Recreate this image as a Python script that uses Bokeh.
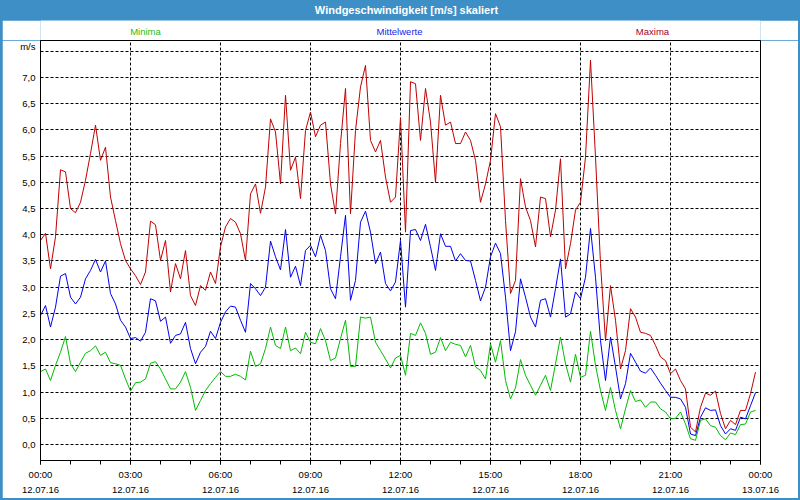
import pandas as pd
from bokeh.plotting import figure
from bokeh.models import Range1d, FixedTicker, CustomJSTickFormatter, DatetimeAxis
from bokeh.layouts import column
from bokeh.core.properties import value
from bokeh.embed import file_html
from bokeh.resources import INLINE

# ---- data (10-minute values, 12.07.16 00:00 .. 23:50) ----
times = pd.date_range("2016-07-12 00:00", periods=144, freq="10min")

maxima = [3.89, 4.03, 3.35, 3.96, 5.24, 5.20, 4.50, 4.42, 4.62, 5.04, 5.55, 6.09, 5.42, 5.67, 4.72, 4.27,
          3.83, 3.51, 3.35, 3.22, 3.05, 3.29, 4.26, 4.19, 3.51, 3.89, 2.91, 3.45, 3.16, 3.70, 2.84, 2.65,
          3.03, 2.94, 3.29, 3.07, 3.77, 4.15, 4.31, 4.24, 4.02, 3.51, 4.78, 4.97, 4.41, 4.91, 6.21, 5.96,
          4.97, 6.66, 5.23, 5.48, 4.69, 5.99, 6.34, 5.87, 6.09, 6.15, 4.97, 4.40, 5.74, 6.79, 4.40, 5.99,
          6.82, 7.23, 5.80, 5.58, 5.80, 5.10, 4.62, 4.72, 6.23, 4.05, 6.92, 6.88, 5.80, 6.79, 6.15, 5.00,
          6.66, 6.09, 6.15, 5.74, 5.74, 5.96, 5.80, 5.42, 4.62, 4.97, 5.42, 6.31, 6.06, 4.27, 2.88, 3.13,
          5.07, 4.53, 4.27, 3.77, 4.72, 4.69, 3.96, 4.47, 5.45, 3.35, 3.83, 4.47, 4.62, 5.48, 7.33, 5.48,
          3.45, 1.98, 3.03, 2.37, 1.44, 1.79, 2.59, 2.43, 2.14, 2.12, 2.08, 1.89, 1.67, 1.60, 1.35, 1.44,
          1.22, 1.06, 0.33, 0.24, 0.71, 0.98, 0.94, 1.02, 0.59, 0.30, 0.46, 0.38, 0.65, 0.65, 0.97, 1.38]

mittel = [2.46, 2.65, 2.24, 2.62, 3.21, 3.26, 2.81, 2.68, 2.81, 3.16, 3.32, 3.53, 3.29, 3.50, 2.88, 2.68,
          2.37, 2.24, 2.02, 2.04, 1.97, 2.14, 2.78, 2.74, 2.35, 2.43, 1.93, 2.08, 2.11, 2.33, 1.83, 1.54,
          1.76, 1.87, 2.16, 2.02, 2.33, 2.53, 2.64, 2.62, 2.37, 2.14, 3.07, 2.97, 2.84, 3.00, 3.88, 3.58,
          3.33, 4.10, 3.19, 3.40, 3.03, 3.70, 3.80, 3.58, 3.99, 3.70, 2.97, 2.78, 3.58, 4.37, 2.75, 3.13,
          4.24, 4.45, 4.05, 3.45, 3.67, 3.07, 2.93, 3.10, 3.89, 2.62, 4.08, 4.10, 3.89, 4.20, 3.77, 3.32,
          4.02, 3.78, 3.78, 3.50, 3.64, 3.51, 3.50, 3.13, 2.74, 3.00, 3.58, 3.84, 3.64, 2.81, 1.79, 2.15,
          3.16, 2.81, 2.43, 2.24, 2.75, 2.78, 2.43, 2.97, 3.54, 2.43, 2.49, 2.91, 2.78, 3.19, 4.12, 3.19,
          1.98, 1.22, 2.05, 1.48, 0.87, 1.16, 1.74, 1.57, 1.40, 1.36, 1.46, 1.32, 1.17, 1.03, 0.90, 0.90,
          0.87, 0.71, 0.20, 0.17, 0.52, 0.70, 0.65, 0.66, 0.36, 0.20, 0.30, 0.27, 0.52, 0.49, 0.74, 0.99]

minima = [1.39, 1.44, 1.22, 1.51, 1.76, 2.06, 1.54, 1.39, 1.57, 1.74, 1.79, 1.88, 1.70, 1.76, 1.56, 1.54,
          1.51, 1.25, 1.02, 1.18, 1.19, 1.25, 1.55, 1.58, 1.44, 1.25, 1.06, 1.06, 1.19, 1.39, 1.09, 0.65,
          0.84, 1.03, 1.16, 1.28, 1.39, 1.30, 1.30, 1.34, 1.30, 1.23, 1.78, 1.49, 1.54, 1.83, 2.24, 1.89,
          1.83, 2.24, 1.79, 1.84, 1.73, 2.14, 1.95, 1.92, 2.21, 1.98, 1.60, 1.65, 2.02, 2.37, 1.49, 1.49,
          2.43, 2.41, 2.43, 1.95, 1.79, 1.63, 1.46, 1.65, 1.70, 1.32, 2.12, 2.08, 2.32, 2.12, 1.72, 1.76,
          2.04, 1.79, 1.95, 1.91, 1.89, 1.67, 1.89, 1.48, 1.41, 1.25, 1.92, 1.57, 1.98, 1.22, 0.87, 1.08,
          1.62, 1.32, 1.13, 0.94, 1.13, 1.32, 1.03, 1.54, 2.05, 1.54, 1.19, 1.72, 1.28, 1.32, 2.16, 1.51,
          1.03, 0.65, 1.09, 0.65, 0.30, 0.68, 1.03, 0.82, 0.85, 0.71, 0.81, 0.81, 0.68, 0.62, 0.49, 0.50,
          0.62, 0.39, 0.11, 0.08, 0.46, 0.49, 0.36, 0.33, 0.17, 0.09, 0.22, 0.19, 0.38, 0.39, 0.62, 0.65]

series_names = ["Minima", "Mittelwerte", "Maxima"]
y_ticks = [0.0, 0.5, 1.0, 1.5, 2.0, 2.5, 3.0, 3.5, 4.0, 4.5, 5.0, 5.5, 6.0, 6.5, 7.0]
y_grid = y_ticks + [7.5]
unit_tick = 7.6
title_text = "Windgeschwindigkeit [m/s] skaliert"
unit_text = "m/s"

# ---- styles ----
FONT = "Liberation Sans"
C_MIN, C_MID, C_MAX = "#00bb00", "#0000ee", "#c00000"
C_LEG = ["#22bb22", "#2222ee", "#a00030"]
C_BAR = "#3d8fc6"
PAD = 2                     # blue window edge (left, right, bottom)
W = 800 - 2 * PAD
BL, BR = 40 - PAD, 40 - PAD   # figure px left/right of plot frame

def header_fig(h, fill):
    f = figure(width=W, height=h, x_range=Range1d(40, 760), y_range=Range1d(0, h),
               toolbar_location=None, output_backend="svg",
               min_border_left=BL, min_border_right=BR, min_border_top=0, min_border_bottom=0,
               x_axis_location=None, y_axis_location=None)
    f.outline_line_color = None
    f.grid.visible = False
    f.background_fill_color = fill
    f.border_fill_color = fill
    return f

# title bar
bar = header_fig(20, C_BAR)
bar.text(x=[406], y=[11], text=[title_text], text_color="white", text_font=value(FONT),
         text_font_size="11px", text_font_style="bold", text_align="center", text_baseline="middle")

# series names
leg = header_fig(20, "white")
leg.text(x=[145, 399, 652], y=[9, 9, 9], text=series_names, text_color=C_LEG,
         text_font=value(FONT), text_font_size="9.5px", text_align="center", text_baseline="middle")

# ---- main chart ----
t0 = pd.Timestamp("2016-07-12 00:00")
t1 = pd.Timestamp("2016-07-13 00:00")
p = figure(width=W, height=460 - PAD, x_axis_type="datetime",
           x_range=Range1d(t0, t1), y_range=Range1d(-0.305, 7.705),
           toolbar_location=None, output_backend="svg",
           min_border_left=BL, min_border_right=BR, min_border_top=0, min_border_bottom=40 - PAD)
p.background_fill_color = "white"
p.border_fill_color = "white"
p.outline_line_color = "black"
p.outline_line_width = 1
p.outline_line_alpha = 1

ms_h = 3600 * 1000
start_ms = t0.value // 10**6
major = [start_ms + h * ms_h for h in range(0, 25, 3)]
minor = [start_ms + h * ms_h for h in range(0, 25)]

time_fmt = CustomJSTickFormatter(code="""
const d = new Date(tick);
const pad = (n) => String(n).padStart(2, '0');
return pad(d.getUTCHours()) + ':' + pad(d.getUTCMinutes());
""")
date_fmt = CustomJSTickFormatter(code="""
const d = new Date(tick);
const pad = (n) => String(n).padStart(2, '0');
return pad(d.getUTCDate()) + '.' + pad(d.getUTCMonth() + 1) + '.' + String(d.getUTCFullYear()).slice(2);
""")

xa = p.xaxis[0]
xa.ticker = FixedTicker(ticks=major, minor_ticks=minor)
xa.formatter = time_fmt
xa.axis_line_color = "black"
xa.major_tick_line_color = "black"
xa.minor_tick_line_color = "black"
xa.major_tick_in = 0
xa.major_tick_out = 4
xa.minor_tick_in = 0
xa.minor_tick_out = 4
xa.major_label_standoff = 4
xa.major_label_text_font = FONT
xa.major_label_text_font_size = "9.5px"
xa.major_label_text_color = "black"

xb = DatetimeAxis(ticker=FixedTicker(ticks=major), formatter=date_fmt)
xb.axis_line_color = None
xb.major_tick_line_color = None
xb.minor_tick_line_color = None
xb.major_tick_out = 0
xb.major_label_standoff = 4
xb.major_label_text_font = FONT
xb.major_label_text_font_size = "9.5px"
xb.major_label_text_color = "black"
p.add_layout(xb, "below")

ya = p.yaxis[0]
ya.ticker = FixedTicker(ticks=y_ticks + [unit_tick])
ya.formatter = CustomJSTickFormatter(
    args=dict(ut=unit_tick, lbl=unit_text),
    code="if (Math.abs(tick - ut) < 1e-6) { return lbl; } return tick.toFixed(1).replace('.', ',');")
ya.axis_line_color = "black"
ya.major_tick_line_color = None
ya.minor_tick_line_color = None
ya.major_tick_out = 0
ya.major_tick_in = 0
ya.major_label_standoff = 5
ya.major_label_text_font = FONT
ya.major_label_text_font_size = "9.5px"
ya.major_label_text_color = "black"

p.xgrid.ticker = FixedTicker(ticks=major)
p.ygrid.ticker = FixedTicker(ticks=y_grid)
for g in (p.xgrid[0], p.ygrid[0]):
    g.grid_line_color = "black"
    g.grid_line_dash = "3 2"
    g.grid_line_width = 1
    g.grid_line_alpha = 1

p.line(times, minima, line_color=C_MIN, line_width=1)
p.line(times, mittel, line_color=C_MID, line_width=1)
p.line(times, maxima, line_color=C_MAX, line_width=1)

layout = column(bar, leg, p, styles={"background-color": C_BAR,
                                      "padding": "0px %dpx %dpx %dpx" % (PAD, PAD, PAD)})
open("out.html", "w").write(file_html(layout, INLINE))
